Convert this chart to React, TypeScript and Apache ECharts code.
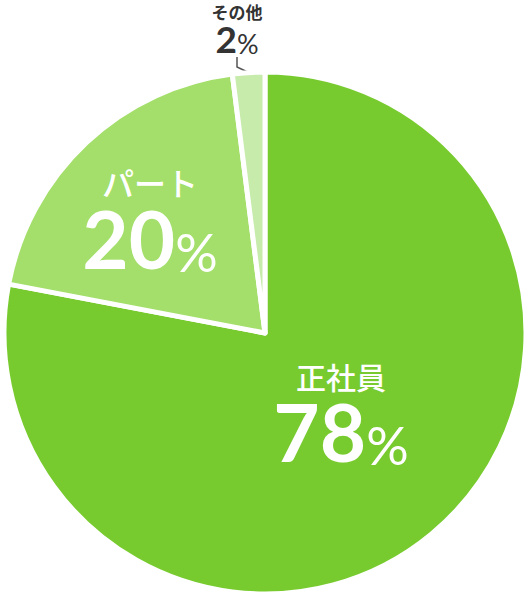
import { useRef, useEffect } from "react";
import * as echarts from "echarts";

// 雇用形態の割合
const categories = ["正社員", "パート", "その他"];
const values = [78, 20, 2];
const colors = ["#78cb2f", "#a3df6a", "#c6ebab"];

// ラベル位置 (中心)
const labelPos = [
  { x: 341, y: 416 },
  { x: 150, y: 222 },
  { x: 237, y: 30 },
];

const App = () => {
  const chartRef = useRef<HTMLDivElement>(null);

  useEffect(() => {
    document.body.style.margin = "0";
    const myChart = echarts.init(chartRef.current, null, { renderer: "svg" });

    const bigLabel = (nameSize: number) => ({
      show: true,
      position: "inside",
      formatter: (p: any) => `{name|${p.name}}\n{num|${p.value}}{pct|%}`,
      rich: {
        name: {
          color: "#fff",
          fontSize: nameSize,
          lineHeight: nameSize,
          fontFamily: "Noto Sans CJK JP",
          fontWeight: 500,
        },
        num: {
          color: "#fff",
          fontSize: 80,
          lineHeight: 80,
          fontFamily: "Lato",
          fontWeight: 700,
        },
        pct: {
          color: "#fff",
          fontSize: 53,
          lineHeight: 80,
          fontFamily: "Lato",
          fontWeight: 400,
          verticalAlign: "bottom",
        },
      },
    });

    const smallLabel = {
      show: true,
      position: "outside",
      formatter: (p: any) => `{name|${p.name}}\n{num|${p.value}}{pct|%}`,
      rich: {
        name: {
          color: "#333",
          fontSize: 17,
          lineHeight: 17,
          fontFamily: "Noto Sans CJK JP",
          fontWeight: 700,
        },
        num: {
          color: "#333",
          fontSize: 37,
          lineHeight: 37,
          fontFamily: "Lato",
          fontWeight: 700,
        },
        pct: {
          color: "#333",
          fontSize: 27,
          lineHeight: 37,
          fontFamily: "Lato",
          fontWeight: 400,
          verticalAlign: "bottom",
        },
      },
    };

    const option = {
      animation: false,
      series: [
        {
          type: "pie",
          center: [265, 333],
          radius: 261,
          startAngle: 90,
          clockwise: true,
          silent: true,
          itemStyle: { borderColor: "#fff", borderWidth: 5 },
          labelLine: {
            show: true,
            length: 8,
            length2: 10,
            lineStyle: { color: "#555", width: 1.5 },
          },
          labelLayout: (params: any) => ({
            x: labelPos[params.dataIndex].x,
            y: labelPos[params.dataIndex].y,
            align: "center",
            verticalAlign: "middle",
          }),
          data: categories.map((name, i) => ({
            name,
            value: values[i],
            itemStyle: { color: colors[i] },
            label: i === 0 ? bigLabel(30) : i === 1 ? bigLabel(32) : smallLabel,
            labelLine: { show: i === 2 },
          })),
        },
      ],
    };

    myChart.setOption(option);

    return () => {
      myChart.dispose();
    };
  }, []);

  return <div ref={chartRef} style={{ width: "530px", height: "599px" }}></div>;
};

export default App;
